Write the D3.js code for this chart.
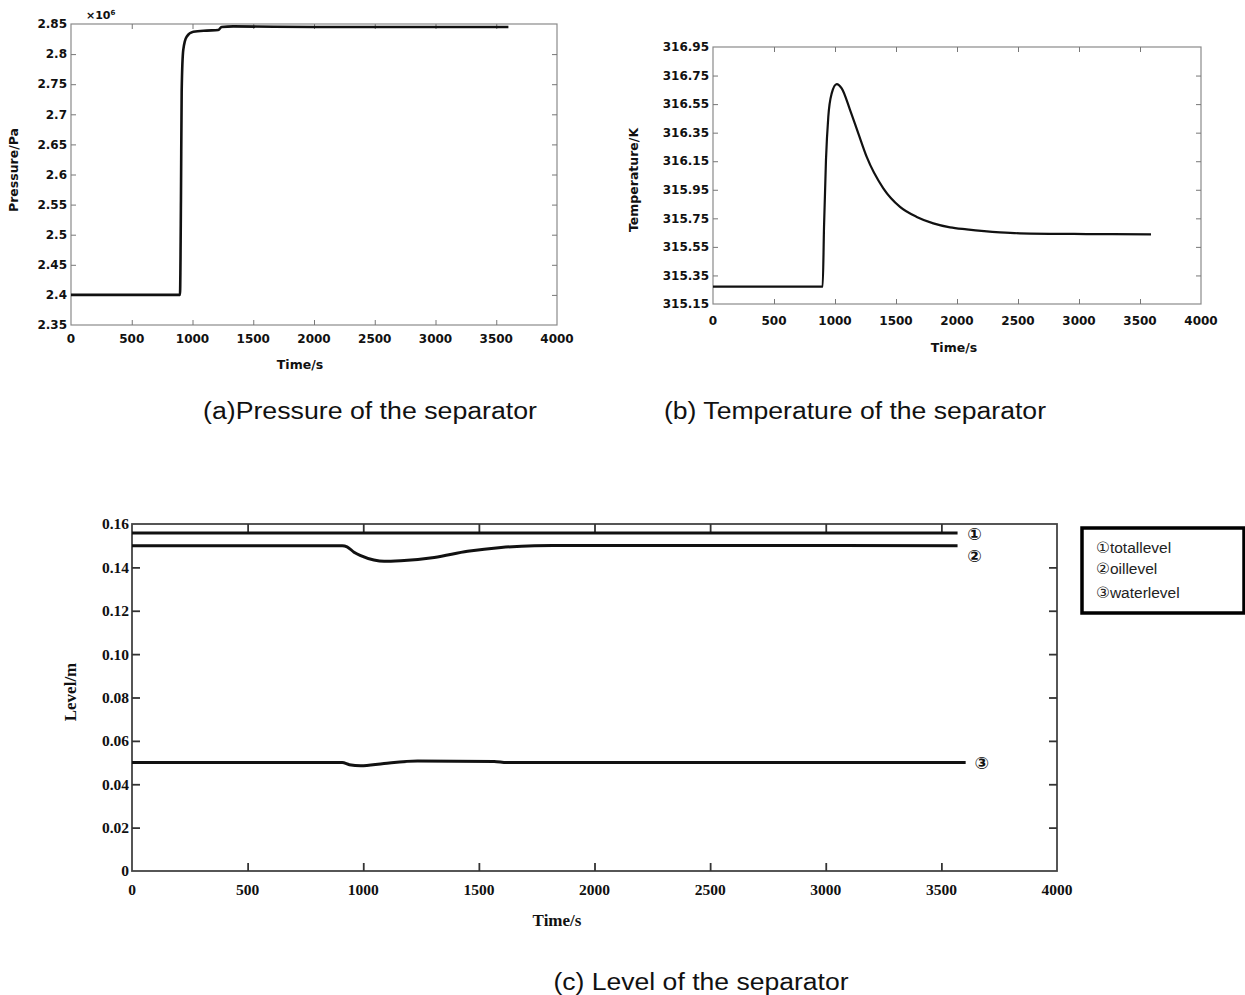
<!DOCTYPE html>
<html><head><meta charset="utf-8">
<script src="https://cdn.jsdelivr.net/npm/d3@7"></script>
<style>body{margin:0;background:#fff}svg{display:block}</style>
</head><body>
<svg id="c" width="1245" height="995"></svg>
<script>
// ---------- data ----------
const timeTicks = [0, 500, 1000, 1500, 2000, 2500, 3000, 3500, 4000];

const pressureTicks = [2.35, 2.4, 2.45, 2.5, 2.55, 2.6, 2.65, 2.7, 2.75, 2.8, 2.85];
const pressureTime  = [0, 897, 905, 911, 924, 952, 1007, 1117, 1212, 1240, 1336, 2000, 3000, 3600];
const pressureValue = [2.40, 2.40, 2.558, 2.740, 2.807, 2.829, 2.837, 2.839, 2.840, 2.845, 2.846, 2.845, 2.845, 2.845];

const tempTicks = [315.15, 315.35, 315.55, 315.75, 315.95, 316.15, 316.35, 316.55, 316.75, 316.95];
const tempTime  = [0, 899, 910, 926, 945, 973, 1014, 1055, 1123, 1191, 1260, 1396, 1533, 1670, 1806, 1943, 2079, 2352, 2516, 3063, 3590];
const tempValue = [315.272, 315.272, 315.69, 316.158, 316.46, 316.625, 316.69, 316.66, 316.51, 316.345, 316.18, 315.96, 315.83, 315.76, 315.715, 315.687, 315.673, 315.652, 315.645, 315.64, 315.638];

const levelTicks = [0, 0.02, 0.04, 0.06, 0.08, 0.10, 0.12, 0.14, 0.16];
const totalTime  = [0, 3570];
const totalValue = [0.1558, 0.1558];
const oilTime  = [0, 909, 930, 960, 989, 1046, 1090, 1162, 1307, 1451, 1596, 1740, 1856, 3570];
const oilValue = [0.150, 0.150, 0.1495, 0.147, 0.1454, 0.1434, 0.1428, 0.1431, 0.1446, 0.1474, 0.1492, 0.1500, 0.1501, 0.150];
const waterTime  = [0, 909, 940, 989, 1090, 1235, 1566, 1620, 3605];
const waterValue = [0.050, 0.050, 0.049, 0.0485, 0.0496, 0.0507, 0.0505, 0.050, 0.050];

const seriesMarks = ["①", "②", "③"];
const legendLabels = ["①totallevel", "②oillevel", "③waterlevel"];
const captions = ["(a)Pressure of the separator", "(b) Temperature of the separator", "(c) Level of the separator"];

// ---------- drawing ----------
const svg = d3.select("#c");

function panel(o) {
  const g = svg.append("g");
  const x = d3.scaleLinear().domain([0, 4000]).range([o.l, o.r]);
  const y = d3.scaleLinear().domain(o.yDomain).range([o.b, o.t]);
  const tl = o.tickLen;
  g.append("rect").attr("x", o.l).attr("y", o.t).attr("width", o.r - o.l).attr("height", o.b - o.t)
    .attr("fill", "none").attr("stroke", o.frameColor).attr("stroke-width", o.frameWidth);
  const innerX = timeTicks.slice(1, -1);
  const innerY = o.yTicks.slice(1, -1);
  const axB = d3.axisBottom(x).tickValues(innerX).tickSize(-tl).tickFormat("");
  const axT = d3.axisTop(x).tickValues(innerX).tickSize(-tl).tickFormat("");
  const axL = d3.axisLeft(y).tickValues(innerY).tickSize(-tl).tickFormat("");
  const axR = d3.axisRight(y).tickValues(innerY).tickSize(-tl).tickFormat("");
  [[axB, `translate(0,${o.b})`], [axT, `translate(0,${o.t})`], [axL, `translate(${o.l},0)`], [axR, `translate(${o.r},0)`]]
    .forEach(([ax, tr]) => {
      const a = g.append("g").attr("transform", tr).call(ax);
      a.select(".domain").remove();
      a.selectAll("line").attr("stroke", o.tickColor).attr("stroke-width", o.tickWidth);
    });
  g.append("g").selectAll("text").data(timeTicks).join("text")
    .attr("x", d => x(d)).attr("y", o.b + o.xLabOff)
    .attr("text-anchor", "middle").attr("font-family", o.font).attr("font-weight", "bold")
    .attr("font-size", o.fs).attr("fill", "#111").text(d => d);
  g.append("g").selectAll("text").data(o.yTicks).join("text")
    .attr("x", o.l - o.yLabOff).attr("y", d => y(d)).attr("dy", "0.35em")
    .attr("text-anchor", "end").attr("font-family", o.font).attr("font-weight", "bold")
    .attr("font-size", o.fs).attr("fill", "#111").text(o.yFmt);
  g.append("text").attr("x", o.xTitle[0]).attr("y", o.xTitle[1]).attr("text-anchor", "middle")
    .attr("font-family", o.font).attr("font-weight", "bold").attr("font-size", o.titleFs).attr("fill", "#111").text("Time/s");
  g.append("text").attr("transform", `translate(${o.yTitle[0]},${o.yTitle[1]}) rotate(-90)`).attr("text-anchor", "middle")
    .attr("dy", "0.35em").attr("font-family", o.font).attr("font-weight", "bold").attr("font-size", o.titleFs)
    .attr("fill", "#111").text(o.yLabel);
  return {g, x, y};
}

function drawLine(p, ts, vs, w, curve) {
  const pts = ts.map((t, i) => [t, vs[i]]);
  const line = d3.line().x(d => p.x(d[0])).y(d => p.y(d[1])).curve(curve || d3.curveMonotoneX);
  p.g.append("path").attr("d", line(pts)).attr("fill", "none").attr("stroke", "#111")
    .attr("stroke-width", w).attr("stroke-linejoin", "round");
}

// (a) pressure
const pa = panel({l: 71, r: 557, t: 24, b: 325, yDomain: [2.35, 2.85], yTicks: pressureTicks,
  yFmt: d => d3.format("")(+d.toFixed(2)), font: "DejaVu Sans", fs: 12, titleFs: 12.5,
  frameColor: "#8a8a8a", frameWidth: 1.2, tickColor: "#777", tickWidth: 1, tickLen: 5,
  xLabOff: 18, yLabOff: 4, xTitle: [300, 369], yTitle: [14, 170], yLabel: "Pressure/Pa"});
pa.g.append("text").attr("x", 86).attr("y", 19).attr("font-family", "DejaVu Sans").attr("font-size", 11)
  .attr("fill", "#111").attr("font-weight", "bold").text("×10").append("tspan").attr("font-size", 7).attr("dy", -4).text("6");
drawLine(pa, pressureTime, pressureValue, 2.6);

// (b) temperature
const pb = panel({l: 713, r: 1201, t: 47, b: 304, yDomain: [315.15, 316.95], yTicks: tempTicks,
  yFmt: d => d.toFixed(2), font: "DejaVu Sans", fs: 12, titleFs: 12.5,
  frameColor: "#8a8a8a", frameWidth: 1.2, tickColor: "#777", tickWidth: 1, tickLen: 5,
  xLabOff: 21, yLabOff: 4, xTitle: [954, 352], yTitle: [634, 180], yLabel: "Temperature/K"});
drawLine(pb, tempTime, tempValue, 2.2);

// (c) level
const pc = panel({l: 132, r: 1057, t: 524, b: 871, yDomain: [0, 0.16], yTicks: levelTicks,
  yFmt: d => d === 0 ? "0" : d.toFixed(2), font: "Liberation Serif", fs: 15.5, titleFs: 17,
  frameColor: "#444", frameWidth: 1.8, tickColor: "#333", tickWidth: 1.8, tickLen: 8,
  xLabOff: 24, yLabOff: 3, xTitle: [557, 926], yTitle: [70, 692], yLabel: "Level/m"});
drawLine(pc, totalTime, totalValue, 3);
drawLine(pc, oilTime, oilValue, 3);
drawLine(pc, waterTime, waterValue, 3);
const markPos = [[totalTime, totalValue], [oilTime, oilValue], [waterTime, waterValue]];
const markOff = [[17, 1], [17, 10], [16, 0]];
pc.g.append("g").selectAll("text").data(seriesMarks).join("text")
  .attr("x", (d, i) => pc.x(markPos[i][0][markPos[i][0].length - 1]) + markOff[i][0])
  .attr("y", (d, i) => pc.y(markPos[i][1][markPos[i][1].length - 1]) + markOff[i][1])
  .attr("dy", "0.35em").attr("text-anchor", "middle").attr("font-family", "DejaVu Sans")
  .attr("font-weight", "bold").attr("font-size", 17).attr("fill", "#111").text(d => d);

// legend
const lg = svg.append("g");
lg.append("rect").attr("x", 1082).attr("y", 528).attr("width", 162).attr("height", 85)
  .attr("fill", "#fff").attr("stroke", "#000").attr("stroke-width", 3.5);
lg.selectAll("text.lab").data(legendLabels).join("text").attr("class", "lab")
  .attr("x", 1096).attr("y", (d, i) => [548, 569, 593][i]).attr("dy", "0.35em")
  .attr("font-family", "Liberation Sans, DejaVu Sans").attr("font-size", 15.5).attr("fill", "#222").text(d => d);

// captions
const capX = [370, 855, 701], capW = [334, 382, 295];
svg.selectAll("text.cap").data(captions).join("text").attr("class", "cap")
  .attr("x", (d, i) => capX[i] - capW[i] / 2).attr("y", (d, i) => [419, 419, 990][i])
  .attr("textLength", (d, i) => capW[i]).attr("lengthAdjust", "spacingAndGlyphs")
  .attr("font-family", "Liberation Sans").attr("font-size", 23.5)
  .attr("fill", "#111").text(d => d);
</script>
</body></html>
